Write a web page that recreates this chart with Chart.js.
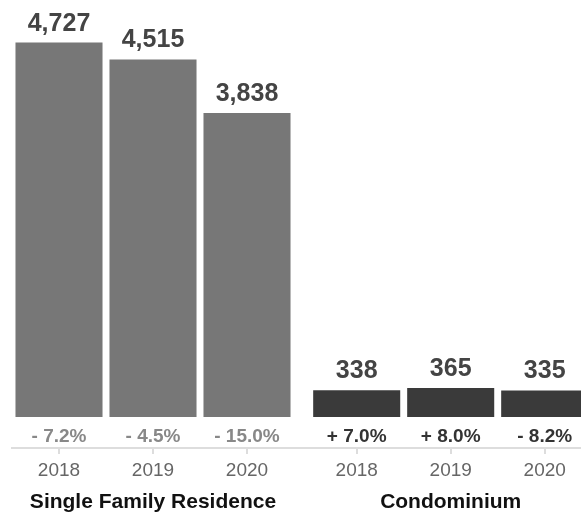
<!DOCTYPE html>
<html>
<head>
<meta charset="utf-8">
<script src="https://cdn.jsdelivr.net/npm/chart.js@4/dist/chart.umd.min.js"></script>
<style>
    body { margin: 0; width: 581px; height: 513px; overflow: hidden; position: relative; background: #fff; }
    .box { position: absolute; top: 0; width: 300px; height: 513px; }
    #leftBox { left: 0; }
    #rightBox { left: 300px; }
</style>
</head>
<body>
<div class="box" id="leftBox"><canvas id="sfrChart"></canvas></div>
<div class="box" id="rightBox"><canvas id="condoChart"></canvas></div>
<script>
// data
const years = ['2018', '2019', '2020'];
const sfrValues = [4727, 4515, 3838];
const sfrChanges = ['- 7.2%', '- 4.5%', '- 15.0%'];
const condoValues = [338, 365, 335];
const condoChanges = ['+ 7.0%', '+ 8.0%', '- 8.2%'];
const groupNames = ['Single Family Residence', 'Condominium'];

const FONT = "'Liberation Sans', Arial, Helvetica, sans-serif";

//########## value labels on top of the bars ##########
const valueLabels = {
    id: 'valueLabels',
    afterDatasetsDraw(chart) {
        const ctx = chart.ctx;
        const ds = chart.data.datasets[0];
        chart.getDatasetMeta(0).data.forEach((bar, i) => {
            ctx.save();
            ctx.font = 'bold 25px ' + FONT;
            ctx.fillStyle = '#444';
            ctx.textAlign = 'center';
            ctx.textBaseline = 'alphabetic';
            ctx.fillText(ds.data[i].toLocaleString('en-US'), bar.x, bar.y - 12);
            ctx.restore();
        });
    }
};

//########## carry the axis line across the gap between the two panels ##########
const axisExtend = {
    id: 'axisExtend',
    afterDraw(chart, args, opts) {
        const s = chart.scales.x2;
        const ctx = chart.ctx;
        const y = Math.round(s.top - 1) + 1;
        ctx.save();
        ctx.strokeStyle = '#ddd';
        ctx.lineWidth = 2;
        ctx.beginPath();
        if (opts.side === 'right') {
            ctx.moveTo(chart.chartArea.right - 1, y);
            ctx.lineTo(chart.width, y);
        } else {
            ctx.moveTo(0, y);
            ctx.lineTo(chart.chartArea.left + 1, y);
        }
        ctx.stroke();
        ctx.restore();
    }
};

function createPanel(canvasId, values, changes, groupName, barColor, changeColor, padding, side) {
    const ctx = document.getElementById(canvasId).getContext('2d');
    return new Chart(ctx, {
        type: 'bar',
        data: {
            labels: years,
            datasets: [{
                label: groupName,
                data: values,
                backgroundColor: barColor,
                borderWidth: 0,
                barPercentage: 0.926,
                categoryPercentage: 1.0,
                xAxisID: 'x',
            }]
        },
        options: {
            responsive: true,
            maintainAspectRatio: false,
            animation: false,
            layout: { padding: padding },
            plugins: {
                legend: { display: false },
                tooltip: { enabled: false },
                axisExtend: { side: side },
            },
            scales: {
                x: {
                    weight: 0,
                    offset: true,
                    grid: { display: false, drawTicks: false },
                    border: { display: false },
                    afterFit: (scale) => { scale.height = 31; },
                    ticks: {
                        padding: 8,
                        color: changeColor,
                        font: { family: FONT, size: 19, weight: 'bold', lineHeight: 1.2 },
                        callback: (v, i) => changes[i],
                    }
                },
                x2: {
                    type: 'category',
                    position: 'bottom',
                    weight: 1,
                    labels: years,
                    offset: true,
                    grid: {
                        offset: false,
                        drawOnChartArea: false,
                        drawTicks: true,
                        tickLength: 6,
                        color: '#ddd',
                        lineWidth: 2,
                    },
                    border: { display: true, color: '#ddd', width: 2 },
                    ticks: {
                        padding: 5,
                        color: '#666',
                        font: { family: FONT, size: 19 },
                    },
                    title: {
                        display: true,
                        text: groupName,
                        color: '#111',
                        padding: { top: 3, bottom: 0 },
                        font: { family: FONT, size: 21, weight: 'bold' },
                    }
                },
                y: {
                    display: false,
                    min: 0,
                    max: 5000,
                }
            }
        },
        plugins: [valueLabels, axisExtend],
    });
}

createPanel('sfrChart', sfrValues, sfrChanges, groupNames[0], '#777777', '#888888',
    { left: 12, right: 6, top: 21, bottom: -2 }, 'right');
createPanel('condoChart', condoValues, condoChanges, groupNames[1], '#3a3a3a', '#333333',
    { left: 9.7, right: 8.3, top: 21, bottom: -2 }, 'left');
</script>
</body>
</html>
